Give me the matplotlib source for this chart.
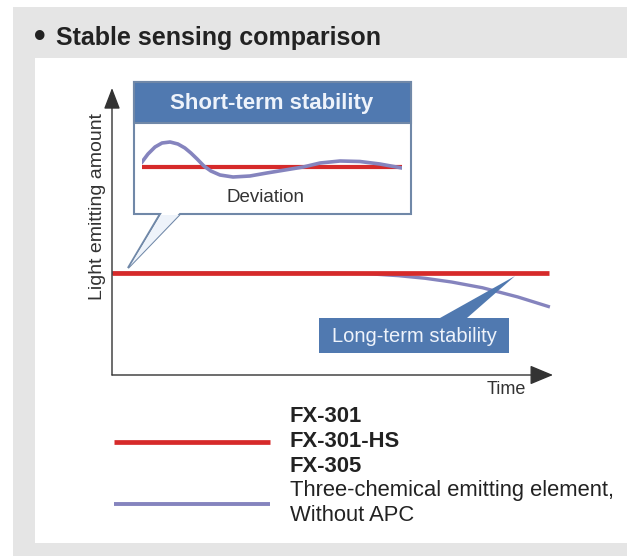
import matplotlib
matplotlib.use("Agg")
import matplotlib.pyplot as plt
from matplotlib.patches import Rectangle, Polygon

plt.rcParams["font.family"] = ["Liberation Sans", "DejaVu Sans"]

W, H = 627, 556

# ---- data (schematic) ----
# main chart: time vs light emitting amount
time_red = [0.0, 9.91]
amount_red = [3.55, 3.55]
time_purple = [0.0, 5.0, 5.8, 6.5, 7.1, 7.7, 8.4, 9.2, 9.93]
amount_purple = [3.55, 3.55, 3.53, 3.46, 3.37, 3.24, 3.04, 2.72, 2.37]

# short-term zoom: deviation around the set level
short_t = [0, 2.3, 5, 7.7, 10.8, 13.8, 16.5, 18.8, 21.2, 23.8, 26.5, 30,
           35, 41.5, 48, 55, 62, 68.5, 76.2, 83.8, 91.5, 100]
short_dev = [5, 13, 20, 24, 25, 23, 19, 14, 8, 1, -4, -8,
             -10, -9, -6, -3, 0, 4, 6, 5.5, 3, -1]
short_red_t = [0, 100]
short_red = [0, 0]

legend_labels = ["FX-301\nFX-301-HS\nFX-305",
                 "Three-chemical emitting element,\nWithout APC"]

RED = "#d62a2a"
PURPLE = "#8584be"
BLUE = "#5079b0"
EDGE = "#7088a8"
GREY_BG = "#e5e5e5"
TXT = "#222222"


def fr(x0, y0, x1, y1):
    # pixel box (top-left origin) -> figure fraction rect
    return [x0 / W, 1 - y1 / H, (x1 - x0) / W, (y1 - y0) / H]


fig = plt.figure(figsize=(W / 100, H / 100), dpi=100)
fig.patch.set_facecolor("white")

# background panels
bg = fig.add_axes([0, 0, 1, 1], zorder=0)
bg.set_xlim(0, W); bg.set_ylim(H, 0); bg.axis("off")
bg.add_patch(Rectangle((13, 7), W - 13, H - 7, facecolor=GREY_BG, edgecolor="none"))
bg.add_patch(Rectangle((35, 58), W - 35, 543 - 58, facecolor="white", edgecolor="none"))
bg.text(40, 38, "\u2022", fontsize=24, fontweight="bold", color=TXT, ha="center", va="center")
bg.text(56, 38, "Stable sensing comparison", fontsize=18, fontweight="bold",
        color=TXT, ha="left", va="center")

# main chart
ax = fig.add_axes(fr(112, 88, 553, 375), zorder=1)
ax.patch.set_alpha(0)
ax.set_xlim(0, 10); ax.set_ylim(0, 10)
for s in ax.spines.values():
    s.set_visible(False)
ax.set_xticks([]); ax.set_yticks([])
ln_p, = ax.plot(time_purple, amount_purple, color=PURPLE, lw=2.4, solid_capstyle="butt", zorder=2)
ln_r, = ax.plot(time_red, amount_red, color=RED, lw=3.4, solid_capstyle="butt", zorder=3)
ax.annotate("", xy=(0, 1), xycoords="axes fraction", xytext=(0, 0),
            arrowprops=dict(arrowstyle="-|>,head_length=0.65,head_width=0.25",
                            mutation_scale=20, color="#333333", lw=1.0,
                            shrinkA=0, shrinkB=0))
ax.annotate("", xy=(1, 0), xycoords="axes fraction", xytext=(0, 0),
            arrowprops=dict(arrowstyle="-|>,head_length=0.72,head_width=0.3",
                            mutation_scale=20, color="#333333", lw=1.0,
                            shrinkA=0, shrinkB=0))
ax.text(-0.032, 0.587, "Light emitting amount", transform=ax.transAxes, rotation=90,
        fontsize=14, color="#333333", ha="center", va="center")
ax.text(0.895, -0.052, "Time", transform=ax.transAxes, fontsize=13,
        color="#333333", ha="center", va="center")

leg = fig.legend([ln_r, ln_p], legend_labels, loc="upper left",
                 bbox_to_anchor=(114 / W, 1 - 406 / H), frameon=False,
                 fontsize=15.8, handlelength=7.1, handletextpad=0.92,
                 borderpad=0, borderaxespad=0, labelspacing=0.15)
for t in leg.get_texts():
    t.set_color(TXT)
    t.set_linespacing(1.25)
leg.get_texts()[0].set_fontweight("bold")
for h in leg.legend_handles:
    h.set_linewidth(3.4 if h.get_color() == RED else 2.8)

# callouts on top
ov = fig.add_axes([0, 0, 1, 1], zorder=5)
ov.set_xlim(0, W); ov.set_ylim(H, 0); ov.axis("off")
ov.add_patch(Polygon([(134, 82), (411, 82), (411, 214), (180, 214), (128, 268),
                      (160, 214), (134, 214)], closed=True, facecolor="white",
                     edgecolor=EDGE, lw=1.5))
ov.add_patch(Polygon([(161, 215), (130, 266), (179, 215)], closed=True,
                     facecolor="#eef3fa", edgecolor="none"))
ov.add_patch(Rectangle((134, 82), 277, 41, facecolor=BLUE, edgecolor=EDGE, lw=1.5))
ov.text(272, 103, "Short-term stability", fontsize=16, fontweight="bold",
        color="#eef3fb", ha="center", va="center")
ov.text(265, 198, "Deviation", fontsize=13.5, color="#333333", ha="center", va="center")
ov.add_patch(Polygon([(440, 318), (515, 276), (467, 318)], closed=True,
                     facecolor=BLUE, edgecolor="none"))
ov.add_patch(Rectangle((319, 318), 190, 35, facecolor=BLUE, edgecolor="none"))
ov.text(414, 337, "Long-term stability", fontsize=14.5, color="#eef3fb",
        ha="center", va="center")

# short-term inset curves
ins = fig.add_axes(fr(142, 123, 402, 214), zorder=6)
ins.patch.set_alpha(0)
ins.set_xlim(0, 100); ins.set_ylim(-47, 44)
ins.axis("off")
ins.plot(short_red_t, short_red, color=RED, lw=3.0, solid_capstyle="butt", zorder=2)
ins.plot(short_t, short_dev, color=PURPLE, lw=2.6, zorder=3)

fig.savefig("out.png", dpi=100)
